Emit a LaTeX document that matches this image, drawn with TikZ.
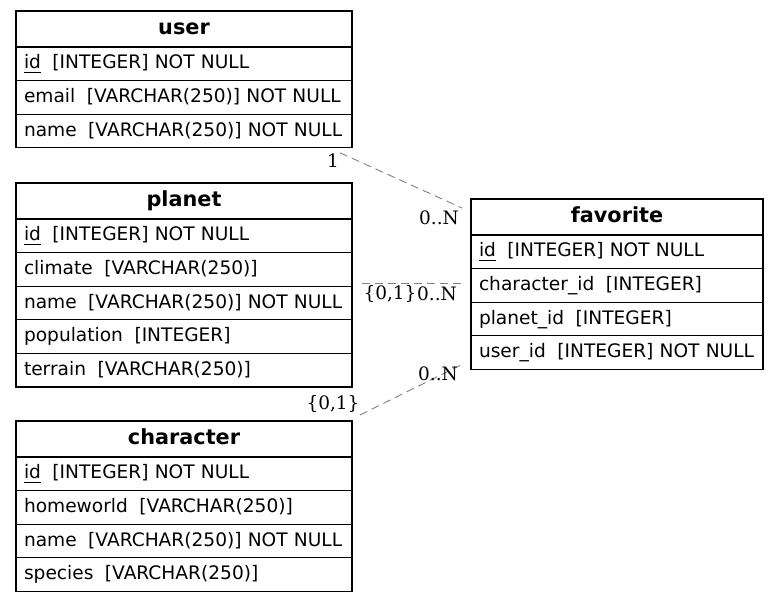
\documentclass[tikz,border=0pt]{standalone}
\usepackage{fontspec}
\setmainfont{DejaVu Sans}
\newfontfamily\lblfont{DejaVu Serif}
\newcommand\fgap{\hspace{11.5pt}}
\newcommand\undl[1]{\setbox0\hbox{#1}\rlap{\rule[-3.5pt]{\wd0}{0.7pt}}\box0}
\begin{document}
\begin{tikzpicture}[x=1pt,y=-1pt,
  tbl/.style={draw=black,line width=1.1pt,outer sep=0pt,inner sep=0pt,anchor=north west},
  hdr/.style={tbl,minimum width=#1,minimum height=36pt,font=\fontsize{20.8}{24}\selectfont\bfseries,text height=15pt,text depth=4pt},
  fld/.style={tbl,text width=#1,minimum height=33.6pt,align=left,inner xsep=8pt,font=\fontsize{18.6}{22}\selectfont,text height=14pt,text depth=4pt},
  rel/.style={draw=gray,line width=0.9pt,dash pattern=on 8pt off 5pt},
  lbl/.style={inner sep=0pt,font=\lblfont\fontsize{18.5}{22}\selectfont}]
\useasboundingbox (0,0) rectangle (779,603);
% user
\node[hdr=336pt] (uh) at (16,11) {user};
\node[fld=320pt] (u1) at (uh.south west) {\mbox{\undl{id}\fgap[INTEGER] NOT NULL}};
\node[fld=320pt] (u2) at (u1.south west) {\mbox{email\fgap[VARCHAR(250)] NOT NULL}};
\node[fld=320pt] (u3) at (u2.south west) {\mbox{name\fgap[VARCHAR(250)] NOT NULL}};
% planet
\node[hdr=336pt] (ph) at (16,183) {planet};
\node[fld=320pt] (p1) at (ph.south west) {\mbox{\undl{id}\fgap[INTEGER] NOT NULL}};
\node[fld=320pt] (p2) at (p1.south west) {\mbox{climate\fgap[VARCHAR(250)]}};
\node[fld=320pt] (p3) at (p2.south west) {\mbox{name\fgap[VARCHAR(250)] NOT NULL}};
\node[fld=320pt] (p4) at (p3.south west) {\mbox{population\fgap[INTEGER]}};
\node[fld=320pt] (p5) at (p4.south west) {\mbox{terrain\fgap[VARCHAR(250)]}};
% character
\node[hdr=336pt] (ch) at (16,421) {character};
\node[fld=320pt] (c1) at (ch.south west) {\mbox{\undl{id}\fgap[INTEGER] NOT NULL}};
\node[fld=320pt] (c2) at (c1.south west) {\mbox{homeworld\fgap[VARCHAR(250)]}};
\node[fld=320pt] (c3) at (c2.south west) {\mbox{name\fgap[VARCHAR(250)] NOT NULL}};
\node[fld=320pt] (c4) at (c3.south west) {\mbox{species\fgap[VARCHAR(250)]}};
% favorite
\node[hdr=292pt] (fh) at (471,199) {favorite};
\node[fld=276pt] (f1) at (fh.south west) {\mbox{\undl{id}\fgap[INTEGER] NOT NULL}};
\node[fld=276pt] (f2) at (f1.south west) {\mbox{character\_id\fgap[INTEGER]}};
\node[fld=276pt] (f3) at (f2.south west) {\mbox{planet\_id\fgap[INTEGER]}};
\node[fld=276pt] (f4) at (f3.south west) {\mbox{user\_id\fgap[INTEGER] NOT NULL}};
% relations
\draw[rel] ([shift={(-12,5)}]u3.south east) -- ([shift={(-9,9)}]fh.north west);
\draw[rel] ([shift={(10,-2.5)}]p2.south east) -- ([shift={(-9,-1.7)}]f2.west);
\draw[rel] ([shift={(8,-6)}]ch.north east) -- ([shift={(-11,-4)}]f4.south west);
% labels
\node[lbl] (l1) at (333,161) {1};
\node[lbl] (l2) at (439,218) {0..N};
\node[lbl] (l3) at (390,294) {\{0,1\}};
\node[lbl] (l4) at (437,294) {0..N};
\node[lbl] (l5) at (333,404) {\{0,1\}};
\node[lbl] (l6) at (438,374) {0..N};
\end{tikzpicture}
\end{document}
